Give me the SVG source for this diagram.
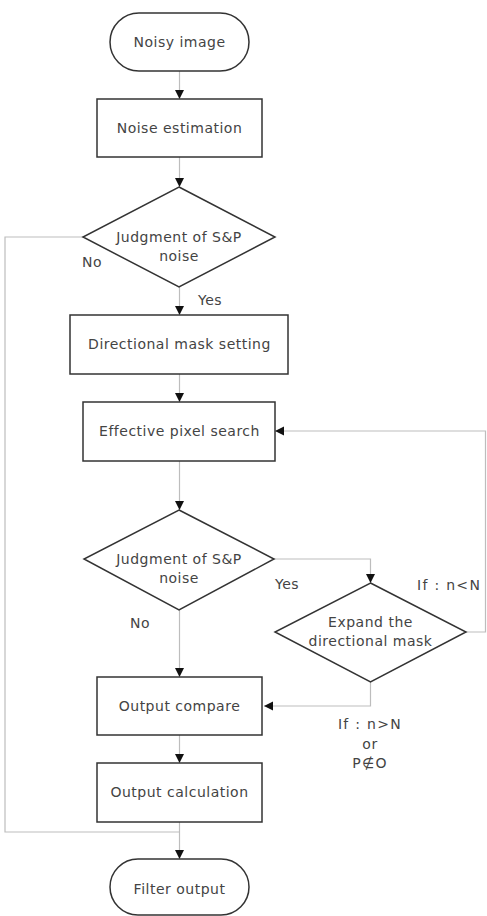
<svg xmlns="http://www.w3.org/2000/svg" width="487" height="916" viewBox="0 0 487 916">
<style>
.shape{fill:#fff;stroke:#333;stroke-width:1.5}
.conn{fill:none;stroke:#bdbdbd;stroke-width:1.2}
text{font-family:"DejaVu Sans","Liberation Sans",sans-serif;font-size:14px;fill:#444;letter-spacing:0.5px}
.c{text-anchor:middle}
.w{letter-spacing:1.3px}
</style>
<defs>
<marker id="arr" markerUnits="userSpaceOnUse" markerWidth="10" markerHeight="10" refX="9" refY="4.5" orient="auto">
<path d="M0,0 L9,4.5 L0,9 z" fill="#111"/>
</marker>
</defs>
<rect width="487" height="916" fill="#fff"/>
<g id="connectors">
<path class="conn" d="M179.5,71 V99" marker-end="url(#arr)"/>
<path class="conn" d="M179.5,157 V187" marker-end="url(#arr)"/>
<path class="conn" d="M179.5,287 V315" marker-end="url(#arr)"/>
<path class="conn" d="M179.5,374 V402" marker-end="url(#arr)"/>
<path class="conn" d="M179.5,461 V510" marker-end="url(#arr)"/>
<path class="conn" d="M179.5,610 V677" marker-end="url(#arr)"/>
<path class="conn" d="M179.5,735 V763" marker-end="url(#arr)"/>
<path class="conn" d="M179.5,822 V859" marker-end="url(#arr)"/>
<path class="conn" d="M83,237 H5 V832 H179.5"/>
<path class="conn" d="M274,559 H370.5 V583" marker-end="url(#arr)"/>
<path class="conn" d="M466,632 H485.5 V431 H275" marker-end="url(#arr)"/>
<path class="conn" d="M370.5,682 V706 H264" marker-end="url(#arr)"/>
</g>
<g id="labels">
<text x="82" y="267">No</text>
<text x="198" y="305">Yes</text>
<text x="275" y="589">Yes</text>
<text class="w" x="417" y="590">If : n&lt;N</text>
<text x="130" y="628">No</text>
<text class="c w" x="370" y="729">If : n&gt;N</text>
<text class="c" x="370" y="749">or</text>
<text class="c w" x="370" y="768">P∉O</text>
</g>
<g id="n-noisy">
<rect class="shape" x="110" y="13" width="139" height="58" rx="29"/>
<text class="c" x="179.5" y="47">Noisy image</text>
</g>
<g id="n-estimation">
<rect class="shape" x="97" y="99" width="165" height="58"/>
<text class="c" x="179.5" y="133">Noise estimation</text>
</g>
<g id="n-judge1">
<polygon class="shape" points="179,187 275,237 179,287 83,237"/>
<text class="c" x="179" y="242">Judgment of S&amp;P</text>
<text class="c" x="179" y="261">noise</text>
</g>
<g id="n-mask">
<rect class="shape" x="70" y="315" width="218" height="59"/>
<text class="c" x="179.5" y="349">Directional mask setting</text>
</g>
<g id="n-search">
<rect class="shape" x="83" y="402" width="192" height="59"/>
<text class="c" x="179.5" y="436">Effective pixel search</text>
</g>
<g id="n-judge2">
<polygon class="shape" points="179,510 274,559 179,610 84,559"/>
<text class="c" x="179" y="564">Judgment of S&amp;P</text>
<text class="c" x="179" y="583">noise</text>
</g>
<g id="n-expand">
<polygon class="shape" points="370.5,583 466,632 370.5,682 275,632"/>
<text class="c" x="370.5" y="627">Expand the</text>
<text class="c" x="370.5" y="646">directional mask</text>
</g>
<g id="n-compare">
<rect class="shape" x="97" y="677" width="165" height="58"/>
<text class="c" x="179.5" y="711">Output compare</text>
</g>
<g id="n-calc">
<rect class="shape" x="97" y="763" width="165" height="59"/>
<text class="c" x="179.5" y="797">Output calculation</text>
</g>
<g id="n-filter">
<rect class="shape" x="110" y="859" width="139" height="56" rx="28"/>
<text class="c" x="179.5" y="894">Filter output</text>
</g>
</svg>
